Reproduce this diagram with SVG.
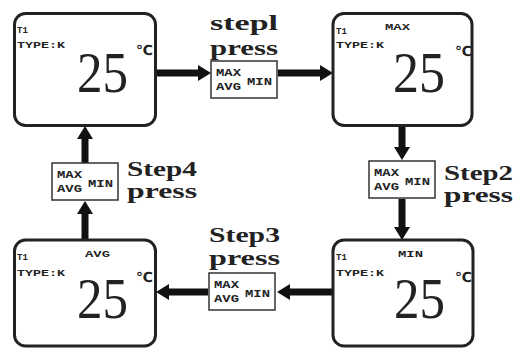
<svg xmlns="http://www.w3.org/2000/svg" width="517" height="349" viewBox="0 0 517 349">
<style>
.scr{fill:#fff;stroke:#222;stroke-width:3}
.btn{fill:#fff;stroke:#333;stroke-width:1.5}
.sm{font-family:"Liberation Mono",monospace;font-weight:bold;font-size:9px;fill:#222}
.bt{font-family:"Liberation Mono",monospace;font-weight:bold;font-size:11px;fill:#222}
.big{font-family:"Liberation Serif",serif;font-size:57px;fill:#222}
.deg{font-family:"DejaVu Sans","Noto Sans CJK SC",sans-serif;font-weight:bold;font-size:14px;fill:#222}
.lbl{font-family:"Liberation Serif",serif;font-weight:bold;font-size:22px;fill:#222}
.lbs{font-size:21px}
.con{stroke:#111;stroke-width:7;fill:none}
</style>
<defs>
<marker id="ah" markerUnits="userSpaceOnUse" viewBox="0 0 13 16" refX="4" refY="8" markerWidth="13" markerHeight="16" orient="auto">
<path d="M0,0 L13,8 L0,16 z" fill="#111"/>
</marker>
<g id="btnface">
<rect class="btn" x="0" y="0" width="66" height="37"/>
<text class="bt" x="5" y="15" textLength="25" lengthAdjust="spacingAndGlyphs">MAX</text>
<text class="bt" x="5" y="29" textLength="25" lengthAdjust="spacingAndGlyphs">AVG</text>
<text class="bt" x="36" y="24" textLength="25" lengthAdjust="spacingAndGlyphs">MIN</text>
</g>
</defs>

<g id="connectors">
<line class="con" x1="157" y1="73" x2="202" y2="73" marker-end="url(#ah)"/>
<line class="con" x1="278" y1="73" x2="324" y2="73" marker-end="url(#ah)"/>
<line class="con" x1="402" y1="126" x2="402" y2="151" marker-end="url(#ah)"/>
<line class="con" x1="402" y1="199" x2="402" y2="231" marker-end="url(#ah)"/>
<line class="con" x1="332" y1="292" x2="286" y2="292" marker-end="url(#ah)"/>
<line class="con" x1="208" y1="292" x2="165" y2="292" marker-end="url(#ah)"/>
<line class="con" x1="85" y1="240" x2="85" y2="210" marker-end="url(#ah)"/>
<line class="con" x1="85" y1="163" x2="85" y2="135" marker-end="url(#ah)"/>
</g>

<g id="screen1">
<rect class="scr" x="14.5" y="13.5" width="141" height="112" rx="11"/>
<text class="sm" x="17" y="33">T1</text>
<text class="sm" x="17" y="48" textLength="48" lengthAdjust="spacingAndGlyphs">TYPE:K</text>
<text class="big" x="77" y="92" textLength="51" lengthAdjust="spacingAndGlyphs">25</text>
<text class="deg" x="136" y="55">℃</text>
</g>

<g id="screen2">
<rect class="scr" x="333" y="13.5" width="139" height="112" rx="11"/>
<text class="sm" x="336" y="34">T1</text>
<text class="sm" x="336" y="48" textLength="48" lengthAdjust="spacingAndGlyphs">TYPE:K</text>
<text class="sm" x="385" y="30" textLength="25" lengthAdjust="spacingAndGlyphs">MAX</text>
<text class="big" x="393" y="92" textLength="52" lengthAdjust="spacingAndGlyphs">25</text>
<text class="deg" x="455" y="56">℃</text>
</g>

<g id="screen3">
<rect class="scr" x="333" y="240" width="140" height="106" rx="11"/>
<text class="sm" x="336" y="260">T1</text>
<text class="sm" x="336" y="276" textLength="48" lengthAdjust="spacingAndGlyphs">TYPE:K</text>
<text class="sm" x="398" y="257" textLength="25" lengthAdjust="spacingAndGlyphs">MIN</text>
<text class="big" x="394" y="318" textLength="51" lengthAdjust="spacingAndGlyphs">25</text>
<text class="deg" x="455" y="282">℃</text>
</g>

<g id="screen4">
<rect class="scr" x="14.5" y="240" width="141" height="106" rx="11"/>
<text class="sm" x="17" y="260">T1</text>
<text class="sm" x="17" y="276" textLength="48" lengthAdjust="spacingAndGlyphs">TYPE:K</text>
<text class="sm" x="85" y="257" textLength="25" lengthAdjust="spacingAndGlyphs">AVG</text>
<text class="big" x="77" y="318" textLength="51" lengthAdjust="spacingAndGlyphs">25</text>
<text class="deg" x="136" y="282">℃</text>
</g>

<g id="button1">
<use href="#btnface" x="211" y="61"/>
<text class="lbl" x="210" y="30" textLength="68" lengthAdjust="spacingAndGlyphs">stepl</text>
<text class="lbl" x="210" y="55" textLength="68" lengthAdjust="spacingAndGlyphs">press</text>
</g>

<g id="button2">
<use href="#btnface" x="369" y="161"/>
<text class="lbl lbs" x="444" y="180" textLength="69" lengthAdjust="spacingAndGlyphs">Step2</text>
<text class="lbl lbs" x="444" y="202" textLength="69" lengthAdjust="spacingAndGlyphs">press</text>
</g>

<g id="button3">
<use href="#btnface" x="209" y="273"/>
<text class="lbl" x="209" y="242" textLength="71" lengthAdjust="spacingAndGlyphs">Step3</text>
<text class="lbl" x="209" y="265" textLength="71" lengthAdjust="spacingAndGlyphs">press</text>
</g>

<g id="button4">
<use href="#btnface" x="52" y="163"/>
<text class="lbl lbs" x="127" y="176" textLength="70" lengthAdjust="spacingAndGlyphs">Step4</text>
<text class="lbl lbs" x="127" y="198" textLength="70" lengthAdjust="spacingAndGlyphs">press</text>
</g>
</svg>
